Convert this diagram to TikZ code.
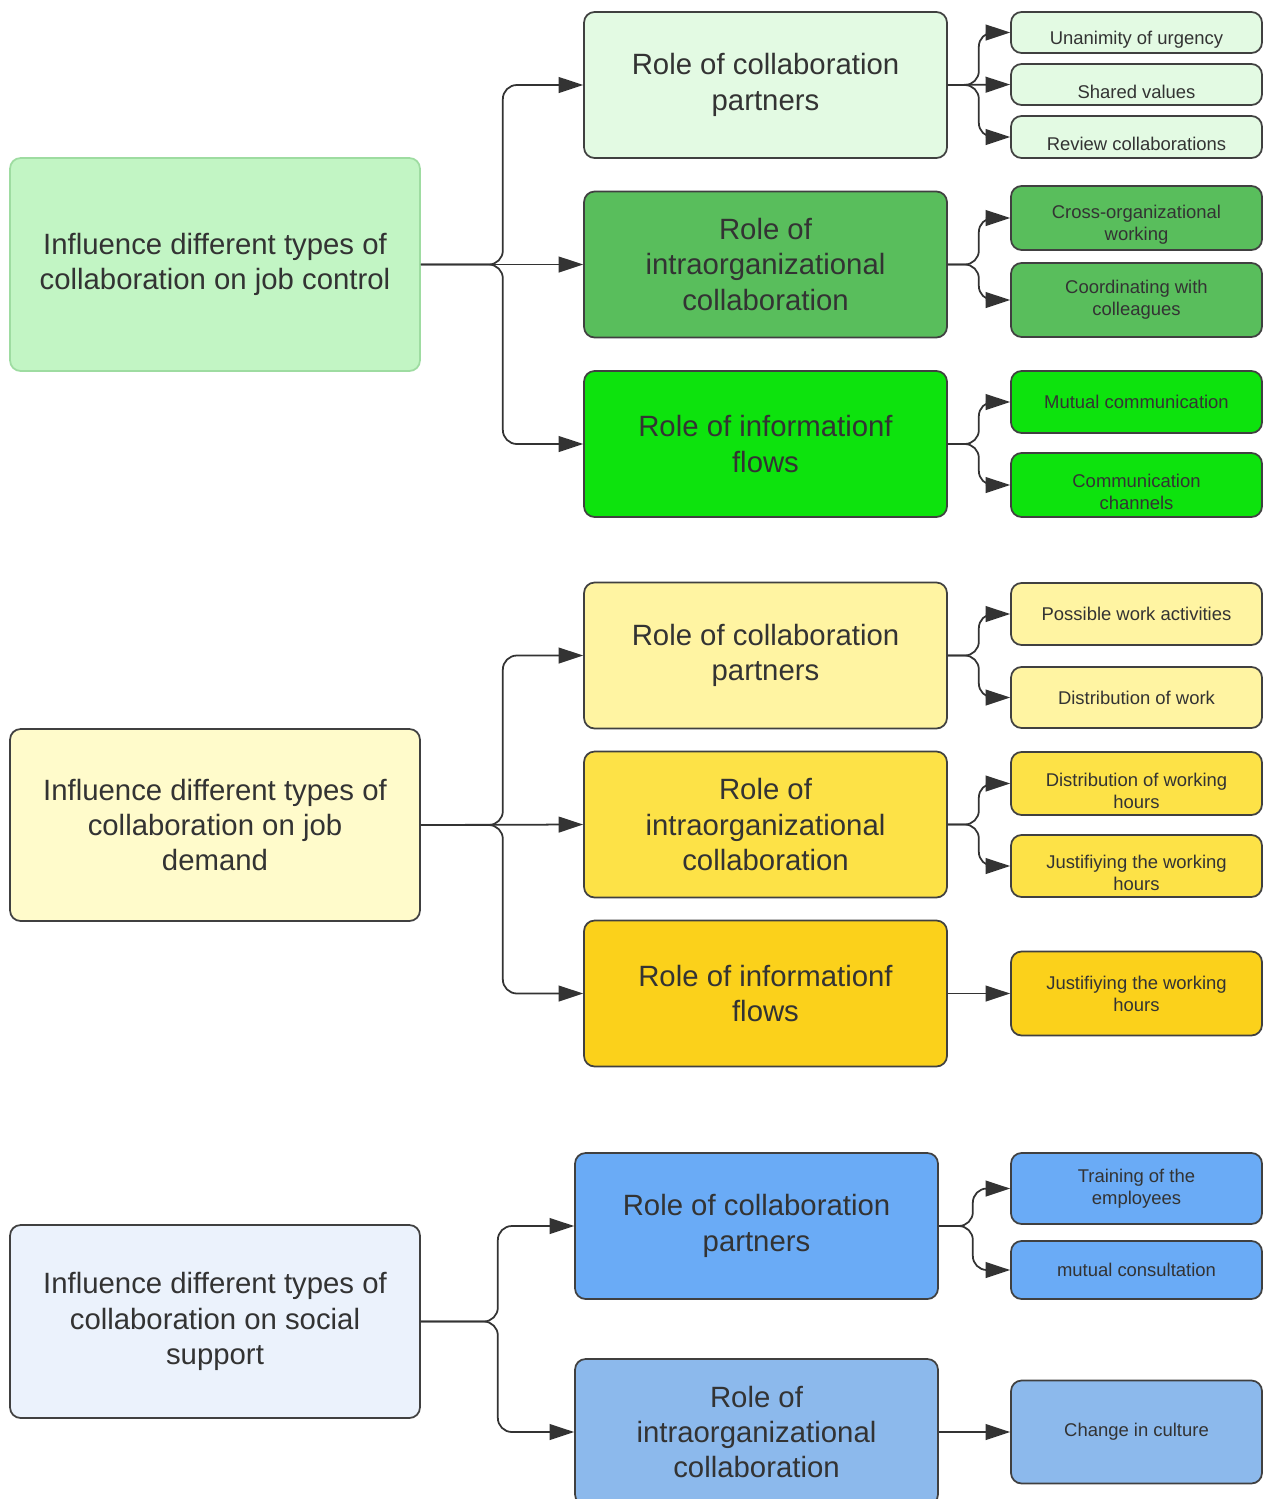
\documentclass[tikz,border=0pt]{standalone}
\usepackage{fontspec}
\setmainfont{Liberation Sans}
\usetikzlibrary{arrows.meta}

\definecolor{gPale}{HTML}{E3FAE3}
\definecolor{gRoot}{HTML}{C2F5C4}
\definecolor{gRootLine}{HTML}{9EDCA1}
\definecolor{gMid}{HTML}{59BE5C}
\definecolor{gLight}{HTML}{0DE30D}
\definecolor{yRoot}{HTML}{FFFBCB}
\definecolor{yPale}{HTML}{FFF4A2}
\definecolor{yMid}{HTML}{FDE247}
\definecolor{yDeep}{HTML}{FBD11B}
\definecolor{bRoot}{HTML}{EBF2FC}
\definecolor{bMid}{HTML}{6AABF6}
\definecolor{bSoft}{HTML}{8CB9EC}

\newcommand{\dropline}{\rule{0pt}{15.5pt}}

\begin{document}
\begin{tikzpicture}[
			x=0.02cm, y=-0.02cm,
			box/.style={draw=black!75, line width=1pt, rounded corners=6pt, align=center, text=black!80, inner sep=1pt},
			main/.style={box, minimum width=8.2cm, font=\fontsize{16.7}{20.2}\selectfont},
			role/.style={box, minimum width=7.26cm, minimum height=2.92cm, font=\fontsize{16.7}{20.2}\selectfont},
			item/.style={box, minimum width=5.02cm, font=\fontsize{10.5}{12.5}\selectfont},
			link/.style={draw=black!80, line width=1pt, rounded corners=8pt, -{Triangle[length=14pt,width=9pt]}},
			]
			\fill[white] (0,0) rectangle (1273,1499);
			\useasboundingbox (0,0) rectangle (1273,1499);
			
			% job control
			\node[main, fill=gRoot, draw=gRootLine, minimum height=4.26cm] (control) at (215,264.5) {Influence different types of\\collaboration on job control};
			\node[role, fill=gPale] (ctrlPartners) at (765.5,85) {Role of collaboration\\partners};
			\node[role, fill=gMid] (ctrlIntra) at (765.5,264.5) {Role of\\intraorganizational\\collaboration};
			\node[role, fill=gLight] (ctrlFlows) at (765.5,444) {Role of informationf\\flows};
			\node[item, fill=gPale, minimum height=0.82cm] (urgency) at (1136.5,32.5) {\dropline Unanimity of urgency};
			\node[item, fill=gPale, minimum height=0.82cm] (values) at (1136.5,84.5) {\dropline Shared values};
			\node[item, fill=gPale, minimum height=0.84cm] (review) at (1136.5,137) {\dropline Review collaborations};
			\node[item, fill=gMid, minimum height=1.28cm] (crossorg) at (1136.5,218) {\dropline Cross-organizational\\working};
			\node[item, fill=gMid, minimum height=1.48cm] (coord) at (1136.5,300) {Coordinating with\\colleagues};
			\node[item, fill=gLight, minimum height=1.24cm] (mutualcom) at (1136.5,402) {Mutual communication};
			\node[item, fill=gLight, minimum height=1.28cm] (channels) at (1136.5,485) {\dropline Communication\\channels};
			
			\draw[link] (control.east) -- ++(82,0) |- (ctrlPartners.west);
			\draw[link] (control.east) -- (ctrlIntra.west);
			\draw[link] (control.east) -- ++(82,0) |- (ctrlFlows.west);
			\draw[link] (ctrlPartners.east) -- ++(31,0) |- (urgency.west);
			\draw[link] (ctrlPartners.east) -- (values.west);
			\draw[link] (ctrlPartners.east) -- ++(31,0) |- (review.west);
			\draw[link] (ctrlIntra.east) -- ++(31,0) |- (crossorg.west);
			\draw[link] (ctrlIntra.east) -- ++(31,0) |- (coord.west);
			\draw[link] (ctrlFlows.east) -- ++(31,0) |- (mutualcom.west);
			\draw[link] (ctrlFlows.east) -- ++(31,0) |- (channels.west);
			
			% job demand
			\node[main, fill=yRoot, minimum height=3.84cm] (demand) at (215,825) {Influence different types of\\collaboration on job\\demand};
			\node[role, fill=yPale] (dmdPartners) at (765.5,655.5) {Role of collaboration\\partners};
			\node[role, fill=yMid] (dmdIntra) at (765.5,824.5) {Role of\\intraorganizational\\collaboration};
			\node[role, fill=yDeep] (dmdFlows) at (765.5,993.5) {Role of informationf\\flows};
			\node[item, fill=yPale, minimum height=1.24cm] (activities) at (1136.5,614) {Possible work activities};
			\node[item, fill=yPale, minimum height=1.22cm] (workdist) at (1136.5,697.5) {Distribution of work};
			\node[item, fill=yMid, minimum height=1.26cm] (hoursdist) at (1136.5,783.5) {\dropline Distribution of working\\hours};
			\node[item, fill=yMid, minimum height=1.24cm] (justify) at (1136.5,866) {\dropline Justifiying the working\\hours};
			\node[item, fill=yDeep, minimum height=1.68cm] (justifyB) at (1136.5,993.5) {Justifiying the working\\hours};
			
			\draw[link] (demand.east) -- ++(82,0) |- (dmdPartners.west);
			\draw[link] (demand.east) -- (dmdIntra.west);
			\draw[link] (demand.east) -- ++(82,0) |- (dmdFlows.west);
			\draw[link] (dmdPartners.east) -- ++(31,0) |- (activities.west);
			\draw[link] (dmdPartners.east) -- ++(31,0) |- (workdist.west);
			\draw[link] (dmdIntra.east) -- ++(31,0) |- (hoursdist.west);
			\draw[link] (dmdIntra.east) -- ++(31,0) |- (justify.west);
			\draw[link] (dmdFlows.east) -- (justifyB.west);
			
			% social support
			\node[main, fill=bRoot, minimum height=3.86cm] (support) at (215,1321.5) {Influence different types of\\collaboration on social\\support};
			\node[role, fill=bMid] (supPartners) at (756.5,1226) {Role of collaboration\\partners};
			\node[role, fill=bSoft] (supIntra) at (756.5,1432) {Role of\\intraorganizational\\collaboration};
			\node[item, fill=bMid, minimum height=1.42cm] (training) at (1136.5,1188.5) {Training of the\\employees};
			\node[item, fill=bMid, minimum height=1.16cm] (consult) at (1136.5,1270) {mutual consultation};
			\node[item, fill=bSoft, minimum height=2.06cm] (culture) at (1136.5,1432) {Change in culture};
			
			\draw[link] (support.east) -- ++(77,0) |- (supPartners.west);
			\draw[link] (support.east) -- ++(77,0) |- (supIntra.west);
			\draw[link] (supPartners.east) -- ++(34,0) |- (training.west);
			\draw[link] (supPartners.east) -- ++(34,0) |- (consult.west);
			\draw[link] (supIntra.east) -- (culture.west);
		\end{tikzpicture}
\end{document}
